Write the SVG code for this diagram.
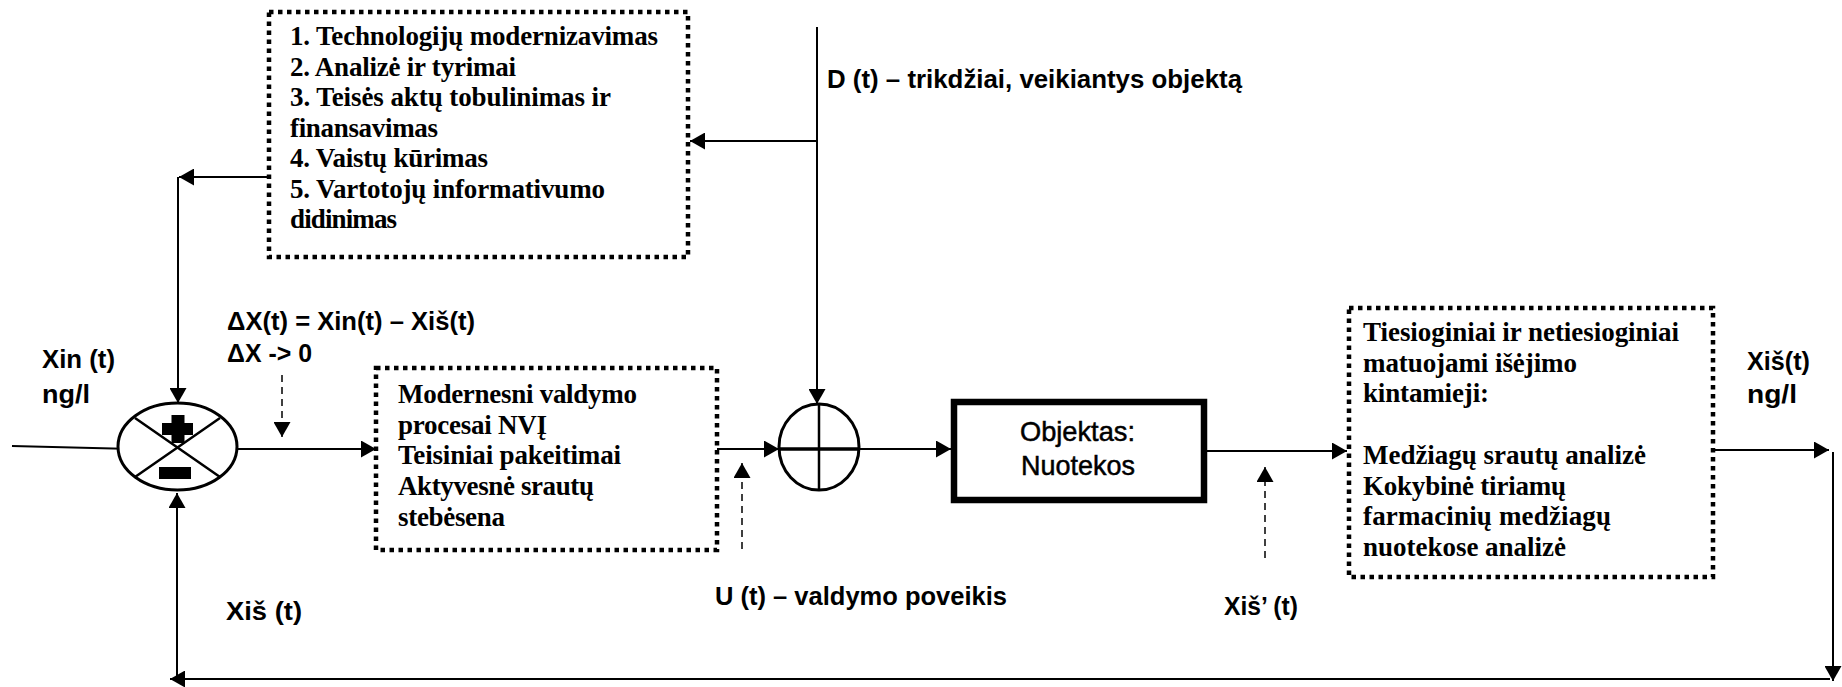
<svg xmlns="http://www.w3.org/2000/svg" width="1842" height="687" viewBox="0 0 1842 687">
<style>
.serif{font-family:"Liberation Serif","Times New Roman",serif;font-weight:bold;font-size:27px;fill:#000}
.sans{font-family:"Liberation Sans",Arial,sans-serif;font-weight:bold;font-size:26px;fill:#000}
.sansr{font-family:"Liberation Sans",Arial,sans-serif;font-weight:normal;font-size:28px;fill:#000;stroke:#000;stroke-width:0.5}
.dbox{fill:#fff;stroke:#000;stroke-width:4.5;stroke-dasharray:4.5 4.5}
.ln{fill:none;stroke:#000;stroke-width:2}
.dash{fill:none;stroke:#000;stroke-width:1.5;stroke-dasharray:7 5}
</style>
<defs>
<marker id="ah" markerUnits="userSpaceOnUse" markerWidth="16" markerHeight="17" refX="15" refY="8.5" orient="auto">
<path d="M0,0 L15,8.5 L0,17 z" fill="#000"/>
</marker>
</defs>
<rect width="1842" height="687" fill="#fff"/>

<g id="connectors">
<path class="ln" d="M12,446 L133,449" marker-end="url(#ah)"/>
<path class="ln" d="M237,449 L376,449" marker-end="url(#ah)"/>
<path class="dash" d="M282,375 L282,437" marker-end="url(#ah)"/>
<path class="ln" d="M704,449 L779,449" marker-end="url(#ah)"/>
<path class="dash" d="M742,549 L742,463" marker-end="url(#ah)"/>
<path class="ln" d="M817,27 L817,404" marker-end="url(#ah)"/>
<path class="ln" d="M817,141 L690,141" marker-end="url(#ah)"/>
<path class="ln" d="M269,177 L179,177" marker-end="url(#ah)"/>
<path class="ln" d="M178,177 L178,403" marker-end="url(#ah)"/>
<path class="ln" d="M860,449 L951,449" marker-end="url(#ah)"/>
<path class="ln" d="M1207,451 L1347,451" marker-end="url(#ah)"/>
<path class="dash" d="M1265,558 L1265,467" marker-end="url(#ah)"/>
<path class="ln" d="M1713,450 L1829,450" marker-end="url(#ah)"/>
<path class="ln" d="M1833,452 L1833,681" marker-end="url(#ah)"/>
<path class="ln" d="M1830,679 L170,679" marker-end="url(#ah)"/>
<path class="ln" d="M177,679 L177,493" marker-end="url(#ah)"/>
</g>

<g id="actions-box">
<rect class="dbox" x="269" y="12" width="419" height="245"/>
<text class="serif" x="290" y="45" textLength="368">1. Technologijų modernizavimas</text>
<text class="serif" x="290" y="75.5" textLength="226">2. Analizė ir tyrimai</text>
<text class="serif" x="290" y="106" textLength="321">3. Teisės aktų tobulinimas ir</text>
<text class="serif" x="290" y="136.5" textLength="148">finansavimas</text>
<text class="serif" x="290" y="167" textLength="198">4. Vaistų kūrimas</text>
<text class="serif" x="290" y="197.5" textLength="315">5. Vartotojų informativumo</text>
<text class="serif" x="290" y="228" textLength="107">didinimas</text>
</g>

<g id="comparator">
<ellipse cx="177.5" cy="446.5" rx="59.5" ry="43.5" fill="#fff" stroke="#000" stroke-width="3"/>
<path d="M135,418 L220,477 M220,418 L135,477" stroke="#000" stroke-width="2.5"/>
<rect x="171.5" y="415" width="13" height="28" fill="#000"/>
<rect x="162" y="423" width="31" height="12" fill="#000"/>
<rect x="159" y="467" width="32" height="12" fill="#000"/>
</g>

<g id="controller-box">
<rect class="dbox" x="376" y="368" width="341" height="182"/>
<text class="serif" x="398" y="403" textLength="239">Modernesni valdymo</text>
<text class="serif" x="398" y="433.5" textLength="149">procesai NVĮ</text>
<text class="serif" x="398" y="464" textLength="223">Teisiniai pakeitimai</text>
<text class="serif" x="398" y="495" textLength="196">Aktyvesnė srautų</text>
<text class="serif" x="398" y="526" textLength="107">stebėsena</text>
</g>

<g id="disturbance-sum">
<ellipse cx="819" cy="447" rx="40" ry="43" fill="#fff" stroke="#000" stroke-width="3"/>
<path d="M819,404 L819,490" stroke="#000" stroke-width="2.5"/>
<path d="M779,449 L859,449" stroke="#000" stroke-width="3.5"/>
</g>

<g id="object-box">
<rect x="954" y="402" width="250" height="98" fill="#fff" stroke="#000" stroke-width="6.5"/>
<text class="sansr" x="1020" y="441" textLength="115" lengthAdjust="spacingAndGlyphs">Objektas:</text>
<text class="sansr" x="1021" y="475" textLength="114" lengthAdjust="spacingAndGlyphs">Nuotekos</text>
</g>

<g id="measure-box">
<rect class="dbox" x="1349" y="308" width="364" height="269"/>
<text class="serif" x="1363" y="341" textLength="316">Tiesioginiai ir netiesioginiai</text>
<text class="serif" x="1363" y="372" textLength="214">matuojami išėjimo</text>
<text class="serif" x="1363" y="402" textLength="126">kintamieji:</text>
<text class="serif" x="1363" y="464" textLength="283">Medžiagų srautų analizė</text>
<text class="serif" x="1363" y="495" textLength="203">Kokybinė tiriamų</text>
<text class="serif" x="1363" y="525" textLength="248">farmacinių medžiagų</text>
<text class="serif" x="1363" y="556" textLength="203">nuotekose analizė</text>
</g>

<g id="labels">
<text class="sans" x="827" y="88" textLength="415" lengthAdjust="spacingAndGlyphs">D (t) – trikdžiai, veikiantys objektą</text>
<text class="sans" x="42" y="368" textLength="73" lengthAdjust="spacingAndGlyphs">Xin (t)</text>
<text class="sans" x="42" y="403" textLength="48" lengthAdjust="spacingAndGlyphs">ng/l</text>
<text class="sans" x="227" y="330" textLength="248" lengthAdjust="spacingAndGlyphs">ΔX(t) = Xin(t) – Xiš(t)</text>
<text class="sans" x="227" y="362" textLength="85" lengthAdjust="spacingAndGlyphs">ΔX -&gt; 0</text>
<text class="sans" x="226" y="620" textLength="76" lengthAdjust="spacingAndGlyphs">Xiš  (t)</text>
<text class="sans" x="715" y="605" textLength="292" lengthAdjust="spacingAndGlyphs">U (t) – valdymo poveikis</text>
<text class="sans" x="1224" y="615" textLength="74" lengthAdjust="spacingAndGlyphs">Xiš’ (t)</text>
<text class="sans" x="1747" y="370" textLength="63" lengthAdjust="spacingAndGlyphs">Xiš(t)</text>
<text class="sans" x="1747" y="403" textLength="50" lengthAdjust="spacingAndGlyphs">ng/l</text>
</g>
</svg>
